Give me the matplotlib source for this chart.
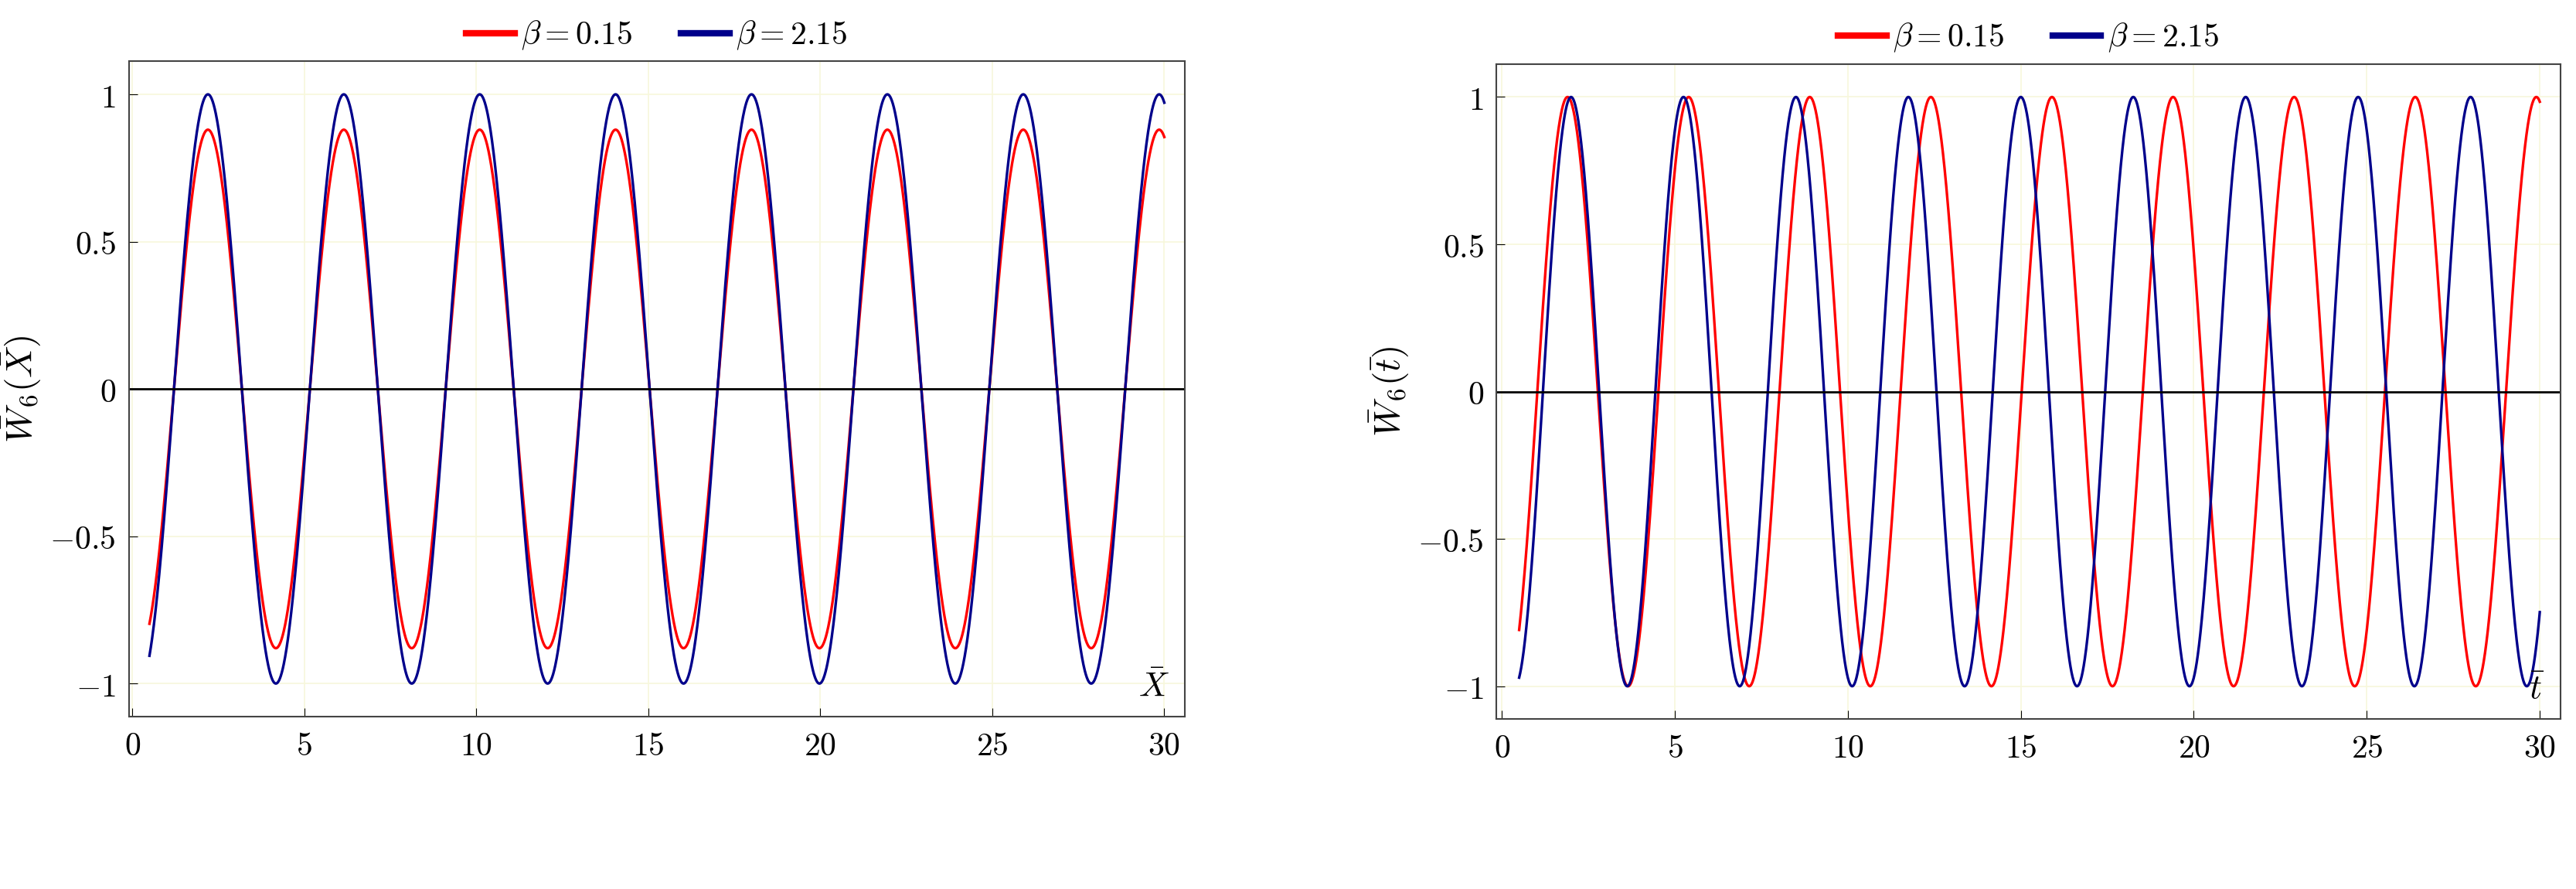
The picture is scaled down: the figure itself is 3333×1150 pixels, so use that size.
import numpy as np
import matplotlib
matplotlib.use("Agg")
import matplotlib.pyplot as plt

plt.rcParams['mathtext.fontset'] = 'cm'
plt.rcParams['font.family'] = ['DejaVu Serif']

# Parameters: (amplitude, period, first peak position)
betas = ["0.15", "2.15"]
colors = ["#ff0000", "#00008b"]
panel_a_amp = [0.88, 1.0]
panel_a_period = [3.95, 3.95]
panel_a_peak = [2.2, 2.2]
panel_b_amp = [1.0, 1.0]
panel_b_period = [3.5, 3.25]
panel_b_peak = [1.9, 2.0]
x_start, x_end = 0.5, 30.0
xticks = [0, 5, 10, 15, 20, 25, 30]
xticklabels = ["0", "5", "10", "15", "20", "25", "30"]
yticks = [-1, -0.5, 0, 0.5, 1]
yticklabels = ["\u22121", "\u22120.5", "0", "0.5", "1"]

fig = plt.figure(figsize=(33.33, 11.5), dpi=100)
axes = [fig.add_axes([0.050, 0.194, 0.410, 0.737]), fig.add_axes([0.581, 0.191, 0.413, 0.737])]
xlims = [(-0.1, 30.6), (-0.15, 30.6)]
x = np.linspace(x_start, x_end, 3000)
panels = [(panel_a_amp, panel_a_period, panel_a_peak, r'$\bar{W}_6(\bar{X})$', r'$\bar{X}$', '(a)'),
          (panel_b_amp, panel_b_period, panel_b_peak, r'$\bar{W}_6(\bar{t})$', r'$\bar{t}$', '(b)')]
for ax, xl, (amps, pers, peaks, ylab, xlab, tag) in zip(axes, xlims, panels):
    for b, c, A, P, p0 in zip(betas, colors, amps, pers, peaks):
        ax.plot(x, A*np.cos(2*np.pi*(x-p0)/P), color=c, lw=2.4, label=r'$\beta = %s$' % b)
    ax.axhline(0, color='black', lw=2)
    ax.set_xlim(*xl)
    ax.set_ylim(-1.112, 1.112)
    ax.set_xticks(xticks)
    ax.set_xticklabels(['$%s$' % t for t in xticklabels])
    ax.set_yticks(yticks)
    ax.set_yticklabels(['$%s$' % t.replace('\u2212', '-') for t in yticklabels])
    ax.grid(True, color='#f7f7dc', lw=1.2)
    ax.tick_params(labelsize=30, direction='in', length=8, pad=12)
    ax.set_ylabel(ylab, fontsize=34, labelpad=6)
    ax.text(0.985, 0.02, xlab, transform=ax.transAxes, ha='right', va='bottom', fontsize=32)
    ax.text(0.5, -0.31, r'$\mathrm{(}\mathbf{%s}\mathrm{)}$' % tag[1], transform=ax.transAxes,
            ha='center', va='center', fontsize=38)
    ax.legend(loc='lower center', bbox_to_anchor=(0.5, 0.99), ncol=2, frameon=False,
              fontsize=30, handlelength=1.5, handletextpad=0.2, columnspacing=1.5, borderpad=0)
    for line in ax.get_legend().get_lines():
        line.set_linewidth(6)
    for s in ax.spines.values():
        s.set_color('#444444')
        s.set_linewidth(1.5)
fig.savefig('out.png', dpi=100)
